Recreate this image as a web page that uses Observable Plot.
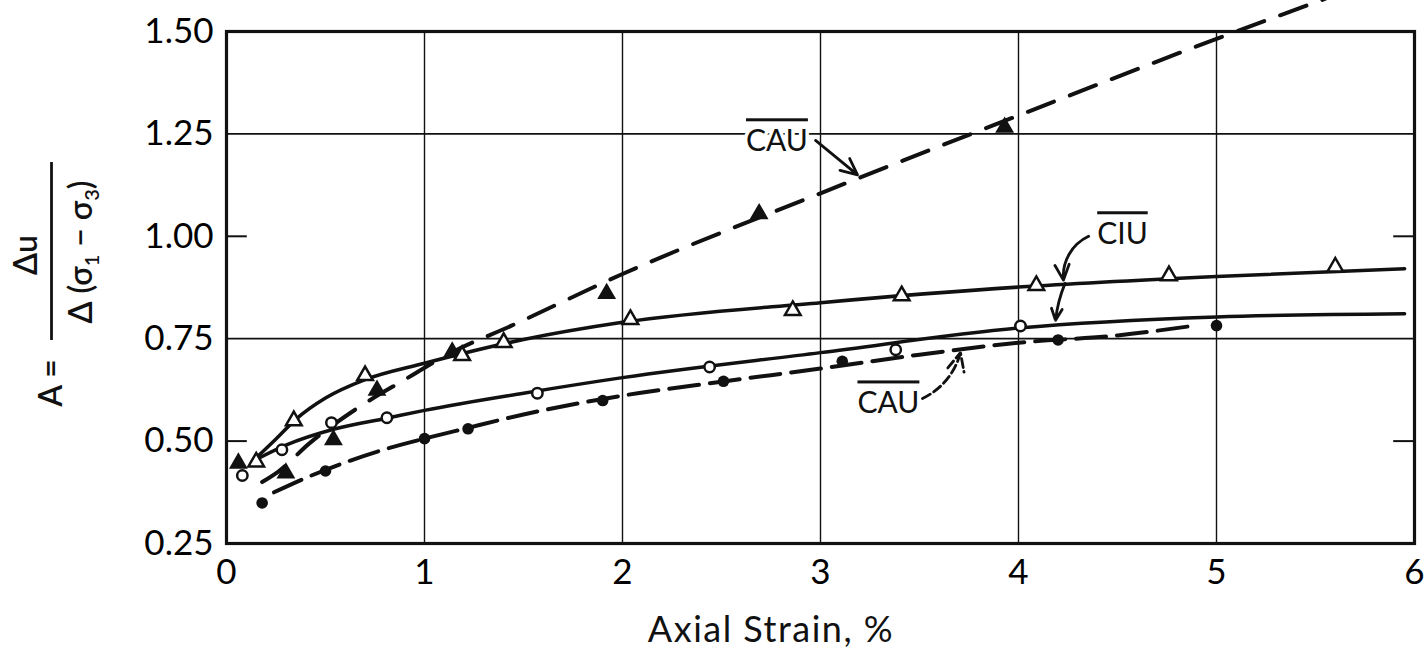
<!DOCTYPE html>
<html><head><meta charset="utf-8">
<script src="https://cdn.jsdelivr.net/npm/d3@7"></script>
<script src="https://cdn.jsdelivr.net/npm/@observablehq/plot@0.6"></script>
<style>
html,body{margin:0;padding:0;background:#fff;}
#chart{position:relative;width:1428px;height:652px;overflow:hidden;background:#fff;}
</style></head><body><div id="chart"></div>
<script>
// ---- axis ticks ----
const xTicks = [0, 1, 2, 3, 4, 5, 6];
const yTicks = [0.25, 0.50, 0.75, 1.00, 1.25, 1.50];
const xGrid = [1, 2, 3, 4, 5];
const yGrid = [0.75, 1.25];
const yShortTicks = [0.50, 1.00];

// ---- CIU, open triangles (measured points) ----
const ciuTriX = [0.15, 0.34, 0.70, 1.19, 1.40, 2.04, 2.86, 3.41, 4.09, 4.76, 5.60];
const ciuTriY = [0.449, 0.550, 0.660, 0.709, 0.741, 0.797, 0.819, 0.855, 0.880, 0.904, 0.925];
// CIU, open triangles (fitted solid curve)
const ciuTriFitX = [0.13, 0.25, 0.35, 0.50, 0.70, 1.00, 1.50, 2.00, 3.00, 4.00, 5.00, 5.95];
const ciuTriFitY = [0.450, 0.505, 0.553, 0.605, 0.650, 0.690, 0.748, 0.790, 0.838, 0.876, 0.902, 0.921];

// ---- CIU, open circles ----
const ciuCirX = [0.08, 0.28, 0.53, 0.81, 1.57, 2.44, 3.38, 4.01];
const ciuCirY = [0.416, 0.479, 0.545, 0.557, 0.617, 0.681, 0.723, 0.781];
const ciuCirFitX = [0.17, 0.30, 0.55, 0.81, 1.00, 1.50, 2.00, 3.00, 4.00, 5.00, 5.95];
const ciuCirFitY = [0.460, 0.490, 0.530, 0.556, 0.575, 0.617, 0.655, 0.716, 0.776, 0.803, 0.811];

// ---- CAU, filled triangles ----
const cauTriX = [0.06, 0.30, 0.54, 0.76, 1.14, 1.92, 2.69, 3.93];
const cauTriY = [0.446, 0.422, 0.503, 0.624, 0.717, 0.860, 1.055, 1.266];
const cauTriFitX = [0.18, 0.26, 0.42, 0.66, 0.90, 1.14, 1.44, 2.00, 3.00, 4.00, 5.00, 5.55];
const cauTriFitY = [0.400, 0.425, 0.495, 0.580, 0.650, 0.717, 0.782, 0.908, 1.105, 1.295, 1.482, 1.580];

// ---- CAU, filled circles ----
const cauCirX = [0.18, 0.50, 1.00, 1.22, 1.90, 2.51, 3.11, 4.20, 5.00];
const cauCirY = [0.349, 0.427, 0.506, 0.530, 0.599, 0.646, 0.695, 0.747, 0.782];
const cauCirFitX = [0.24, 0.40, 0.60, 0.80, 1.00, 1.20, 1.50, 2.00, 2.50, 3.00, 3.50, 4.00, 4.50, 4.89];
const cauCirFitY = [0.375, 0.410, 0.448, 0.480, 0.506, 0.530, 0.565, 0.611, 0.645, 0.677, 0.711, 0.740, 0.758, 0.782];

// ---- annotations ----
const labelText = ["CAU", "CIU", "CAU"];
const labelX = [2.78, 4.525, 3.343];
const labelY = [1.231, 1.004, 0.591];
const arrowCauUpper = [{x1: 2.975, y1: 1.234, x2: 3.187, y2: 1.150}];
const arrowCiuUpper = [{x1: 4.354, y1: 1.000, x2: 4.227, y2: 0.893}];
const arrowCiuLower = [{x1: 4.235, y1: 0.885, x2: 4.187, y2: 0.795}];
const arrowCauLower = [{x1: 3.515, y1: 0.604, x2: 3.707, y2: 0.716}];

const pairs = (xs, ys) => xs.map((x, i) => [x, ys[i]]);
const arrowOpts = {x1: "x1", y1: "y1", x2: "x2", y2: "y2", stroke: "#111", strokeWidth: 2.8, headLength: 14, headAngle: 50};

const plot = Plot.plot({
  width: 1428, height: 652,
  marginTop: 31, marginBottom: 109, marginLeft: 226, marginRight: 14,
  style: {fontFamily: "Lato, 'Open Sans', sans-serif", background: "white", color: "black", overflow: "visible"},
  x: {domain: [0, 6]},
  y: {domain: [0.25, 1.5]},
  marks: [
    Plot.ruleX(xGrid, {stroke: "#111", strokeWidth: 1.4}),
    Plot.ruleY(yGrid, {stroke: "#111", strokeWidth: 1.7}),
    Plot.ruleY(yShortTicks, {x1: 0, x2: 0.105, stroke: "#111", strokeWidth: 2}),
    Plot.ruleY(yShortTicks, {x1: 5.895, x2: 6, stroke: "#111", strokeWidth: 2}),
    Plot.frame({stroke: "#111", strokeWidth: 3.2}),
    Plot.axisX(xTicks, {tickSize: 0, tickPadding: 16, fontSize: 35, label: null, tickFormat: d => String(d)}),
    Plot.axisY(yTicks, {tickSize: 0, tickPadding: 13, fontSize: 35, label: null, tickFormat: d => d.toFixed(2)}),
    // fitted curves
    Plot.line(pairs(cauTriFitX, cauTriFitY), {curve: "monotone-x", stroke: "#111", strokeWidth: 4, strokeDasharray: "28,17"}),
    Plot.line(pairs(cauCirFitX, cauCirFitY), {curve: "monotone-x", stroke: "#111", strokeWidth: 4, strokeDasharray: "30,11"}),
    Plot.line(pairs(ciuTriFitX, ciuTriFitY), {curve: "monotone-x", stroke: "#111", strokeWidth: 3.5}),
    Plot.line(pairs(ciuCirFitX, ciuCirFitY), {curve: "monotone-x", stroke: "#111", strokeWidth: 3.5}),
    // points
    Plot.dot(pairs(cauTriX, cauTriY), {symbol: "triangle", r: 7, fill: "#111", stroke: "none"}),
    Plot.dot(pairs(cauCirX, cauCirY), {symbol: "circle", r: 5.8, fill: "#111", stroke: "none"}),
    Plot.dot(pairs(ciuTriX, ciuTriY), {symbol: "triangle", r: 5.8, fill: "white", stroke: "#111", strokeWidth: 2.5}),
    Plot.dot(pairs(ciuCirX, ciuCirY), {symbol: "circle", r: 5.2, fill: "white", stroke: "#111", strokeWidth: 2.5}),
    // annotations
    Plot.arrow(arrowCauUpper, {...arrowOpts, bend: 0}),
    Plot.arrow(arrowCiuUpper, {...arrowOpts, bend: -35}),
    Plot.arrow(arrowCiuLower, {...arrowOpts, bend: -8}),
    Plot.arrow(arrowCauLower, {...arrowOpts, bend: -25, strokeDasharray: "9,4"}),
    Plot.text(labelText, {x: (d, i) => labelX[i], y: (d, i) => labelY[i], text: d => d, fontSize: 30, fill: "#111", stroke: "white", strokeWidth: 7, textAnchor: "middle", lineAnchor: "middle"}),
    Plot.text(["Axial Strain, %"], {x: () => 2.75, frameAnchor: "bottom", dy: 87, text: d => d, fontSize: 36, fill: "#111", lineAnchor: "middle", textAnchor: "middle"})
  ]
});

document.getElementById("chart").appendChild(plot);

const svg = d3.select(plot);
svg.selectAll("text").filter(function() { return this.textContent === "CAU" || this.textContent === "CIU"; })
  .style("text-decoration", "overline");
svg.selectAll("text").filter(function() { return this.textContent === "Axial Strain, %"; })
  .style("letter-spacing", "1.5px");

// y-axis label: A = Δu / Δ(σ1 − σ3), rotated
const g = svg.append("g").attr("font-family", "Lato, 'Open Sans', sans-serif").attr("fill", "#111").attr("font-weight", 600);
g.append("text").attr("transform", "translate(37,255) rotate(-90)").attr("text-anchor", "middle")
  .attr("font-size", 32).text("Δu");
g.append("line").attr("x1", 51.5).attr("x2", 51.5).attr("y1", 162).attr("y2", 340)
  .attr("stroke", "#111").attr("stroke-width", 2.8);
const den = g.append("text").attr("transform", "translate(92,252) rotate(-90)").attr("text-anchor", "middle")
  .attr("font-size", 32);
den.append("tspan").text("Δ (σ");
den.append("tspan").attr("font-size", 20).attr("dy", 7).text("1");
den.append("tspan").attr("dy", -7).text(" − σ");
den.append("tspan").attr("font-size", 20).attr("dy", 7).text("3");
den.append("tspan").attr("dy", -7).text(")");
g.append("text").attr("transform", "translate(62,383) rotate(-90)").attr("text-anchor", "middle")
  .attr("font-size", 32).text("A =");
</script></body></html>
